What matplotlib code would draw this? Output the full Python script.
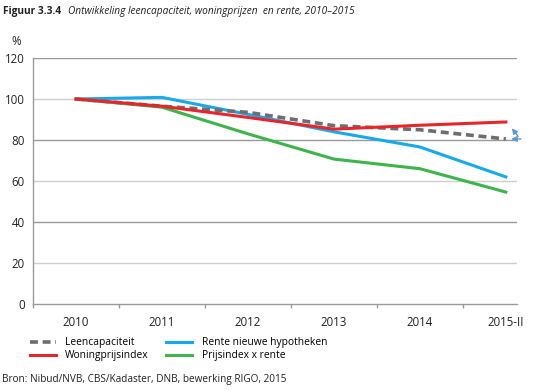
import numpy as np
import matplotlib.pyplot as plt
from matplotlib.lines import Line2D

plt.rcParams['font.family'] = ['Open Sans', 'DejaVu Sans']

years = ['2010', '2011', '2012', '2013', '2014', '2015-II']
leencapaciteit = [100, 96.5, 93.5, 87, 85, 80.5]
woningprijsindex = [100, 96.5, 91, 85.3, 87.2, 88.8]
rente_hypotheken = [100, 100.8, 92.5, 84, 76.6, 62]
prijsindex_rente = [100, 96, 83, 70.7, 66, 54.6]
yticks = [0, 20, 40, 60, 80, 100, 120]

fig = plt.figure(figsize=(5.33, 3.92), dpi=100)
ax = fig.add_axes([0.062, 0.2245, 0.908, 0.6275])

x = np.arange(len(years))

# alternating gridline shades like the original
for v in yticks[1:]:
    col = '#9a9a9a' if v % 40 == 0 else '#cfcfcf'
    ax.axhline(v, color=col, lw=1.0, zorder=1)

ax.plot(x, leencapaciteit, color='#6d6e71', lw=2.6, ls=(0, (2.2, 1.3)), zorder=4)
ax.plot(x, rente_hypotheken, color='#15aaea', lw=2.2, zorder=3)
ax.plot(x, prijsindex_rente, color='#3db54a', lw=2.2, zorder=3)
ax.plot(x, woningprijsindex, color='#e8252b', lw=2.2, zorder=5)

# little arrows at the end
arrow_kw = dict(arrowstyle='-|>', color='#5b9bd5', lw=1.0, mutation_scale=8)
ax.annotate('', xy=(x[-1] + 0.03, leencapaciteit[-1]), xytext=(11, 0),
            textcoords='offset points', arrowprops=arrow_kw)
ax.annotate('', xy=(x[-1] + 0.05, woningprijsindex[-1] - 2), xytext=(7, -9),
            textcoords='offset points', arrowprops=arrow_kw)

ax.set_ylim(0, 120)
ax.set_xlim(-0.49, 5.13)
ax.set_yticks(yticks)
ax.set_xticks(x)
ax.set_xticklabels(years)
ax.set_xticks(np.arange(-0.5, 5.5, 1), minor=True)
ax.tick_params(axis='x', which='major', length=0, pad=9, labelsize=8.3, labelcolor='#222222')
ax.tick_params(axis='x', which='minor', length=3, color='#9a9a9a', width=1)
ax.tick_params(axis='y', length=0, pad=6, labelsize=8.3, labelcolor='#222222')
for s in ['top', 'right']:
    ax.spines[s].set_visible(False)
for s in ['left', 'bottom']:
    ax.spines[s].set_color('#9a9a9a')
    ax.spines[s].set_linewidth(1.0)

fig.text(0.022, 0.885, '%', fontsize=8.3, color='#222222')

fig.text(0.006, 0.965, 'Figuur 3.3.4', fontsize=7.3, fontweight='bold', color='#222222')
fig.text(0.128, 0.965, 'Ontwikkeling leencapaciteit, woningprijzen  en rente, 2010\u20132015',
         fontsize=7.3, style='italic', color='#222222')

handles = [
    Line2D([], [], color='#6d6e71', lw=2.6, ls=(0, (2.2, 1.3))),
    Line2D([], [], color='#e8252b', lw=2.2),
    Line2D([], [], color='#15aaea', lw=2.2),
    Line2D([], [], color='#3db54a', lw=2.2),
]
labels = ['Leencapaciteit', 'Woningprijsindex', 'Rente nieuwe hypotheken', 'Prijsindex x rente']
fig.legend(handles, labels, ncol=2, loc='upper left', bbox_to_anchor=(0.056, 0.14),
           frameon=False, fontsize=7.4, handlelength=2.5, handletextpad=0.95,
           columnspacing=1.7, labelspacing=0.2, borderpad=0, borderaxespad=0)

fig.text(0.004, 0.025, 'Bron: Nibud/NVB, CBS/Kadaster, DNB, bewerking RIGO, 2015',
         fontsize=7.2, color='#222222')

fig.savefig('out.png', dpi=100)
